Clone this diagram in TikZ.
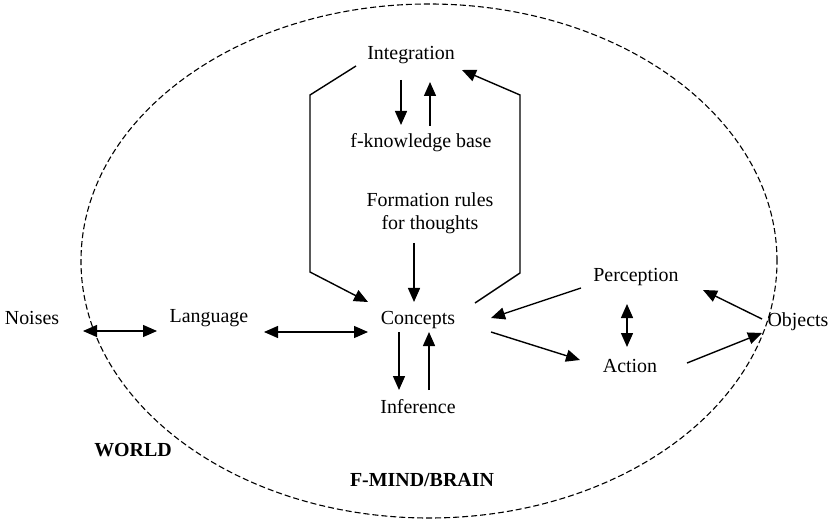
\documentclass[tikz,border=0pt]{standalone}
\usepackage{fontspec}
\setmainfont{Liberation Serif}
\usetikzlibrary{arrows.meta}
\begin{document}
\begin{tikzpicture}[x=1bp,y=-1bp,
  lbl/.style={inner sep=0pt,font=\fontsize{20}{23}\selectfont},
  bold/.style={lbl,font=\fontsize{20}{23}\selectfont\bfseries},
  link/.style={line width=1.4bp},
  arr/.style={link,-{Triangle[length=14bp,width=12bp]}},
  darr/.style={link,{Triangle[length=14bp,width=12bp]}-{Triangle[length=14bp,width=12bp]}},
  boundary/.style={line width=1.1bp,dash pattern=on 6bp off 3bp}]
\useasboundingbox (0,0) rectangle (840,520);

% the mind/brain boundary
\draw[boundary] (429,261) ellipse [x radius=348bp,y radius=257bp];

% labels
\node[lbl] (integ) at (411,55) {Integration};
\node[lbl] (fkb) at (421,143) {f-knowledge base};
\node[lbl,align=center] (form) at (430,213) {Formation rules\\for thoughts};
\node[lbl] (conc) at (418,320) {Concepts};
\node[lbl] (inf) at (418,407) {Inference};
\node[lbl] (lang) at (209,318) {Language};
\node[lbl] (noise) at (32,318) {Noises};
\node[lbl] (perc) at (636,277) {Perception};
\node[lbl] (act) at (630,366) {Action};
\node[lbl] (obj) at (798,322) {Objects};
\node[bold] (world) at (133,450) {WORLD};
\node[bold] (mind) at (422,480) {F-MIND/BRAIN};

% integration <-> knowledge base
\draw[arr] ([shift={(-10,25)}]integ.center) -- ([shift={(-20,-18)}]fkb.center);
\draw[arr] ([shift={(9,-17)}]fkb.center) -- ([shift={(19,27)}]integ.center);

% side loops between integration and concepts
\draw[arr] ([shift={(-55,11)}]integ.center) -- (310,95) -- (310,272)
  -- ([shift={(-50,-18)}]conc.center);
\draw[arr] ([shift={(57,-17)}]conc.center) -- (520,273) -- (520,95)
  -- ([shift={(51,15)}]integ.center);

% formation rules into concepts
\draw[arr] ([shift={(-16,30)}]form.center) -- ([shift={(-4,-18)}]conc.center);

% language chain
\draw[darr] ([shift={(51,13)}]noise.center) -- ([shift={(-52,13)}]lang.center);
\draw[darr] ([shift={(55,14)}]lang.center) -- ([shift={(-50,12)}]conc.center);

% concepts <-> inference
\draw[arr] ([shift={(-19,12)}]conc.center) -- ([shift={(-19,-17)}]inf.center);
\draw[arr] ([shift={(11,-17)}]inf.center) -- ([shift={(11,12)}]conc.center);

% perception / action loop
\draw[arr] ([shift={(-55,11)}]perc.center) -- ([shift={(73,-2)}]conc.center);
\draw[arr] ([shift={(73,12)}]conc.center) -- ([shift={(-50,-6)}]act.center);
\draw[darr] ([shift={(-9,27)}]perc.center) -- ([shift={(-3,-19)}]act.center);
\draw[arr] ([shift={(-36,-3)}]obj.center) -- ([shift={(67,13)}]perc.center);
\draw[arr] ([shift={(57,-3)}]act.center) -- ([shift={(-36,11)}]obj.center);
\end{tikzpicture}
\end{document}
